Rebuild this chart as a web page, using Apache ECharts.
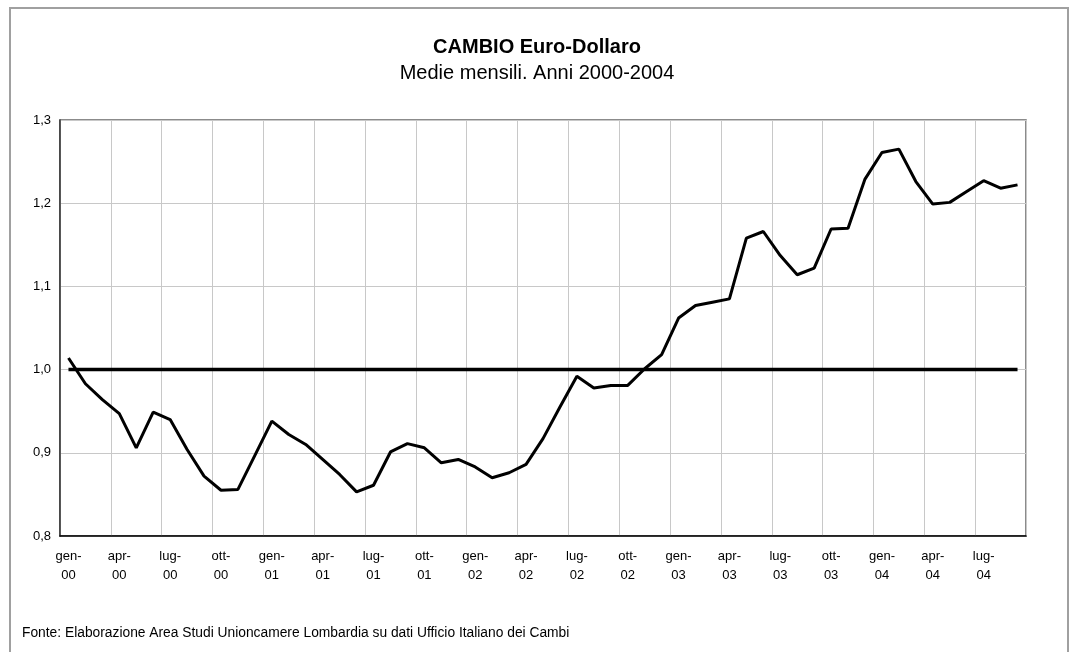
<!DOCTYPE html>
<html>
<head>
<meta charset="utf-8">
<title>CAMBIO Euro-Dollaro</title>
<script src="https://cdn.jsdelivr.net/npm/echarts@6/dist/echarts.min.js"></script>
<style>
  html, body { margin: 0; padding: 0; background: #fff; }
  #chart { width: 1074px; height: 652px; }
</style>
</head>
<body>
<div id="chart"></div>
<script>
// monthly categories, gen-00 .. set-04
const months = [
  'gen-00', 'feb-00', 'mar-00', 'apr-00', 'mag-00', 'giu-00', 'lug-00', 'ago-00', 'set-00', 'ott-00', 'nov-00', 'dic-00',
  'gen-01', 'feb-01', 'mar-01', 'apr-01', 'mag-01', 'giu-01', 'lug-01', 'ago-01', 'set-01', 'ott-01', 'nov-01', 'dic-01',
  'gen-02', 'feb-02', 'mar-02', 'apr-02', 'mag-02', 'giu-02', 'lug-02', 'ago-02', 'set-02', 'ott-02', 'nov-02', 'dic-02',
  'gen-03', 'feb-03', 'mar-03', 'apr-03', 'mag-03', 'giu-03', 'lug-03', 'ago-03', 'set-03', 'ott-03', 'nov-03', 'dic-03',
  'gen-04', 'feb-04', 'mar-04', 'apr-04', 'mag-04', 'giu-04', 'lug-04', 'ago-04', 'set-04'
];

// monthly average exchange rate
const cambio = [
  1.014, 0.983, 0.964, 0.947, 0.906, 0.949, 0.940, 0.904, 0.872, 0.855, 0.856, 0.897,
  0.938, 0.922, 0.910, 0.892, 0.874, 0.853, 0.861, 0.901, 0.911, 0.906, 0.888, 0.892,
  0.883, 0.870, 0.876, 0.886, 0.917, 0.955, 0.992, 0.978, 0.981, 0.981, 1.001, 1.018,
  1.062, 1.077, 1.081, 1.085, 1.158, 1.166, 1.137, 1.114, 1.122, 1.169, 1.170, 1.229,
  1.261, 1.265, 1.226, 1.199, 1.201, 1.214, 1.227, 1.218, 1.222
];

// parity reference line at 1.0
const parita = [['gen-00', 1.0], ['set-04', 1.0]];

const yTicks = { min: 0.8, max: 1.3, interval: 0.1 };

const chart = echarts.init(document.getElementById('chart'));

const font = 'Liberation Sans, Arial, sans-serif';

const option = {
  animation: false,
  backgroundColor: '#fff',
  textStyle: { fontFamily: font },
  title: {
    text: 'CAMBIO Euro-Dollaro',
    subtext: 'Medie mensili. Anni 2000-2004',
    left: 'center',
    top: 32,
    itemGap: 6,
    textStyle: { fontFamily: font, fontSize: 20, fontWeight: 'bold', color: '#000' },
    subtextStyle: { fontFamily: font, fontSize: 20, color: '#000' }
  },
  graphic: [
    {
      type: 'rect',
      shape: { x: 10, y: 8, width: 1058, height: 660 },
      style: { fill: 'none', stroke: '#a0a0a0', lineWidth: 2 },
      silent: true
    },
    {
      type: 'text',
      left: 22,
      top: 626,
      style: {
        text: 'Fonte: Elaborazione Area Studi Unioncamere Lombardia su dati Ufficio Italiano dei Cambi',
        font: '13.8px ' + font,
        fill: '#000'
      }
    }
  ],
  grid: {
    left: 60,
    right: 48,
    top: 120,
    bottom: 116,
    show: true,
    borderColor: '#666',
    borderWidth: 1.5
  },
  xAxis: {
    type: 'category',
    data: months,
    boundaryGap: true,
    axisLine: { lineStyle: { color: '#000', width: 1.5 } },
    axisTick: { inside: true, length: 3, interval: 2, lineStyle: { color: '#000' } },
    splitLine: { show: true, interval: 2, lineStyle: { color: '#c8c8c8', width: 1 } },
    axisLabel: {
      interval: 2,
      color: '#000',
      fontSize: 13,
      lineHeight: 19,
      margin: 11,
      formatter: v => v.replace('-', '-\n')
    }
  },
  yAxis: {
    type: 'value',
    min: yTicks.min,
    max: yTicks.max,
    interval: yTicks.interval,
    axisLine: { show: true, lineStyle: { color: '#333', width: 1.5 } },
    axisTick: { show: false },
    splitLine: { lineStyle: { color: '#c8c8c8', width: 1 } },
    axisLabel: {
      color: '#000',
      fontSize: 13,
      margin: 9,
      formatter: v => v.toFixed(1).replace('.', ',')
    }
  },
  series: [
    {
      name: 'Parità',
      type: 'line',
      data: parita,
      symbol: 'none',
      lineStyle: { color: '#000', width: 3.5 },
      z: 3
    },
    {
      name: 'Cambio',
      type: 'line',
      data: cambio,
      symbol: 'none',
      lineStyle: { color: '#000', width: 3 },
      z: 4
    }
  ]
};

chart.setOption(option);
</script>
</body>
</html>
